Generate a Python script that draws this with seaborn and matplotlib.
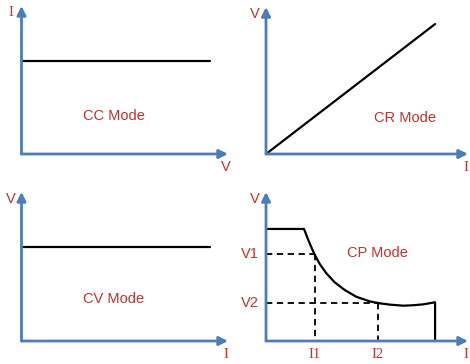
import matplotlib
matplotlib.use("Agg")
import matplotlib.pyplot as plt
import seaborn as sns

# ---------------------------------------------------------------------------
# Data (each panel: axis runs 0..10 from origin to arrow tip)
# ---------------------------------------------------------------------------

cc_voltage = [0.0, 9.13]
cc_current = [6.28, 6.28]

cr_current = [0.0, 8.37]
cr_voltage = [0.0, 8.84]

cv_current = [0.0, 9.13]
cv_voltage = [6.31, 6.31]

cp_current = [0.0, 1.88, 1.96, 2.04, 2.21, 2.41, 2.66, 2.99, 3.40, 3.90,
              4.47, 5.13, 5.63, 6.14, 6.80, 7.29, 7.79, 8.37, 8.37]
cp_voltage = [7.52, 7.52, 7.25, 6.96, 6.40, 5.79, 5.17, 4.54, 3.94, 3.42,
              2.97, 2.66, 2.53, 2.44, 2.37, 2.40, 2.46, 2.60, 0.0]

cp_marks_i = [2.43, 5.54]
cp_marks_v = [5.84, 2.55]
cp_mark_labels_i = ["I1", "I2"]
cp_mark_labels_v = ["V1", "V2"]

panels = [
    # name, x label, y label, mode text pos, origin px, x tip px, y tip px
    ("CC Mode", "V", "I", (4.48, 2.57), (21.5, 154), 228, 6),
    ("CR Mode", "I", "V", (6.88, 2.45), (266, 154), 468, 7),
    ("CV Mode", "I", "V", (4.48, 2.82), (21.5, 341), 228, 192),
    ("CP Mode", "I", "V", (5.52, 5.91), (266, 341), 468, 192),
]

W, H = 470, 364
AXIS_BLUE = "#4A7EBB"
RED = "#C8302C"
SANS = ["Liberation Sans", "DejaVu Sans"]
SERIF = ["Liberation Serif", "DejaVu Serif"]

sns.set_theme(style="white")
plt.rcParams["font.family"] = SANS

fig = plt.figure(figsize=(W / 100, H / 100), dpi=100)
axes = []
for name, xl, yl, tpos, (ox, oy), xt, yt in panels:
    ax = fig.add_axes([ox / W, (H - oy) / H, (xt - ox) / W, (oy - yt) / H])
    ax.set_xlim(0, 10)
    ax.set_ylim(0, 10)
    ax.axis("off")

    # blue axes with arrow heads
    for tip in [(10, 0), (0, 10)]:
        ax.annotate("", xy=tip, xytext=(0, 0),
                    arrowprops=dict(arrowstyle="-|>", color=AXIS_BLUE, lw=2,
                                    mutation_scale=13, shrinkA=0, shrinkB=0))

    ax.text(tpos[0], tpos[1], name, color=RED, fontsize=10.5,
            ha="center", va="center")

    # axis letters: I uses a serif face, V a sans one
    ax.annotate(yl, xy=(0, 10), xytext=(-11, -7), textcoords="offset pixels",
                color=RED, fontsize=10.5, ha="center", va="center",
                family=SERIF if yl == "I" else SANS, annotation_clip=False)
    ax.annotate(xl, xy=(10, 0), xytext=(-2, -13), textcoords="offset pixels",
                color=RED, fontsize=10.5, ha="center", va="center",
                family=SERIF if xl == "I" else SANS, annotation_clip=False)
    axes.append(ax)

ax_cc, ax_cr, ax_cv, ax_cp = axes

line_kw = dict(color="black", linewidth=1.6, estimator=None, sort=False,
               legend=False, clip_on=False, solid_joinstyle="round")
sns.lineplot(x=cc_voltage, y=cc_current, ax=ax_cc, **line_kw)
sns.lineplot(x=cr_current, y=cr_voltage, ax=ax_cr, **line_kw)
sns.lineplot(x=cv_current, y=cv_voltage, ax=ax_cv, **line_kw)
sns.lineplot(x=cp_current, y=cp_voltage, ax=ax_cp, **line_kw)

# CP mode guide lines
for i_val, v_val, i_lab, v_lab in zip(cp_marks_i, cp_marks_v,
                                      cp_mark_labels_i, cp_mark_labels_v):
    ax_cp.plot([0, i_val], [v_val, v_val], color="black", lw=1.3,
               linestyle=(0, (3.5, 2.5)), clip_on=False)
    ax_cp.plot([i_val, i_val], [v_val, 0], color="black", lw=1.3,
               linestyle=(0, (3.5, 2.5)), clip_on=False)
    ax_cp.annotate(v_lab, xy=(0, v_val), xytext=(-16, 0),
                   textcoords="offset pixels", color=RED, fontsize=10.5,
                   ha="center", va="center", annotation_clip=False)
    ax_cp.annotate(i_lab, xy=(i_val, 0), xytext=(0, -14),
                   textcoords="offset pixels", color=RED, fontsize=10.5,
                   ha="center", va="center", family=SERIF,
                   annotation_clip=False)

fig.savefig("out.png", dpi=100, facecolor="white")
